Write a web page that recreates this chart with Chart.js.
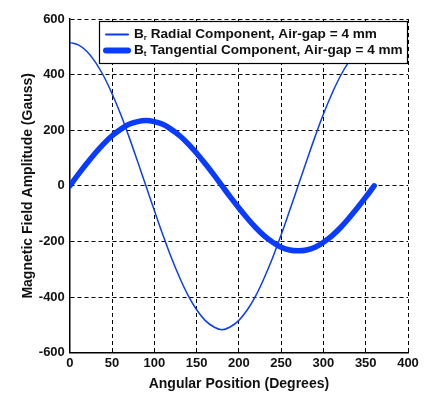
<!DOCTYPE html>
<html>
<head>
<meta charset="utf-8">
<script src="https://cdn.jsdelivr.net/npm/chart.js@4/dist/chart.umd.min.js"></script>
<style>
  html, body { margin: 0; padding: 0; background: #ffffff; }
  #wrap { width: 442px; height: 401px; }
</style>
</head>
<body>
<div id="wrap"><canvas id="chart" width="442" height="401"></canvas></div>
<script>
// angular position, degrees
const angles = [0, 10, 20, 30, 40, 50, 60, 70, 80, 90, 100, 110, 120, 130, 140, 150, 160, 170, 180,
	190, 200, 210, 220, 230, 240, 250, 260, 270, 280, 290, 300, 310, 320, 330, 340, 350, 360]

// Br radial component (Gauss)
const radial = [515, 507, 484, 446, 395, 331, 258, 176, 89, 0, -89, -176, -258, -331, -395, -446, -484, -507, -518,
	-507, -484, -446, -395, -331, -258, -176, -89, 0, 89, 176, 258, 331, 395, 446, 484, 507, 515]

// Bt tangential component (Gauss)
const tangential = [0, 41, 80, 117, 151, 180, 203, 221, 231, 235, 231, 221, 203, 180, 151, 117, 80, 41, 0,
	-41, -80, -117, -151, -180, -203, -221, -231, -234, -231, -221, -203, -180, -151, -117, -80, -41, 0]

const xTicks = [0, 50, 100, 150, 200, 250, 300, 350, 400]
const yTicks = [-600, -400, -200, 0, 200, 400, 600]

const legendItems = [
	{ base: 'B', sub: 'r', rest: ' Radial Component, Air-gap = 4 mm', width: 2 },
	{ base: 'B', sub: 't', rest: ' Tangential Component, Air-gap = 4 mm', width: 6 }
]

const blue = '#0a3cff'
const font = '"Liberation Sans", Arial, sans-serif'

const toPoints = (ys) => angles.map((a, i) => ({ x: a, y: ys[i] }))

// boxed legend drawn inside the plot, top right, like the original figure
const boxLegend = {
	id: 'boxLegend',
	afterDatasetsDraw(chart) {
		const { ctx, chartArea } = chart
		const w = 308
		const h = 42
		const left = chartArea.right - w - 1
		const top = chartArea.top + 2

		ctx.save()
		ctx.fillStyle = '#ffffff'
		ctx.fillRect(left, top, w, h)
		ctx.strokeStyle = '#000000'
		ctx.lineWidth = 1.2
		ctx.strokeRect(left + 0.5, top + 0.5, w, h)

		legendItems.forEach((item, i) => {
			const cy = top + 13.5 + i * 16
			ctx.strokeStyle = blue
			ctx.lineWidth = item.width
			ctx.lineCap = 'round'
			ctx.beginPath()
			ctx.moveTo(left + 7, cy)
			ctx.lineTo(left + 29, cy)
			ctx.stroke()

			ctx.fillStyle = '#111111'
			ctx.textBaseline = 'middle'
			let x = left + 35
			ctx.font = `bold 13.6px ${font}`
			ctx.fillText(item.base, x, cy)
			x += ctx.measureText(item.base).width
			ctx.font = `bold 8px ${font}`
			ctx.fillText(item.sub, x, cy + 3)
			x += ctx.measureText(item.sub).width
			ctx.font = `bold 13.6px ${font}`
			ctx.fillText(item.rest, x, cy)
		})
		ctx.restore()
	}
}

new Chart(document.getElementById('chart'), {
	type: 'line',
	data: {
		datasets: [
			{
				label: 'Br Radial Component, Air-gap = 4 mm',
				data: toPoints(radial),
				borderColor: blue,
				borderWidth: 1.5,
				pointRadius: 0,
				tension: 0.4,
				fill: false
			},
			{
				label: 'Bt Tangential Component, Air-gap = 4 mm',
				data: toPoints(tangential),
				borderColor: blue,
				borderWidth: 5.5,
				pointRadius: 0,
				tension: 0.4,
				borderCapStyle: 'round',
				fill: false
			}
		]
	},
	options: {
		responsive: false,
		animation: false,
		devicePixelRatio: 1,
		layout: {
			padding: { top: 19, right: 34, bottom: 8, left: 20 }
		},
		plugins: {
			legend: { display: false },
			tooltip: { enabled: false }
		},
		scales: {
			x: {
				type: 'linear',
				min: 0,
				max: 400,
				afterBuildTicks: (axis) => {
					axis.ticks = xTicks.map((v) => ({ value: v }))
				},
				ticks: {
					color: '#111111',
					font: { family: font, size: 13, weight: 'bold' },
					padding: 3,
					maxRotation: 0
				},
				grid: { color: '#000000', lineWidth: 1, drawTicks: false },
				border: { display: true, color: '#000000', width: 1.5, dash: [4, 3] },
				title: {
					display: true,
					text: 'Angular Position (Degrees)',
					color: '#111111',
					font: { family: font, size: 14, weight: 'bold' },
					padding: { top: 2, bottom: 0 }
				}
			},
			y: {
				type: 'linear',
				min: -600,
				max: 600,
				afterBuildTicks: (axis) => {
					axis.ticks = yTicks.map((v) => ({ value: v }))
				},
				ticks: {
					color: '#111111',
					font: { family: font, size: 13, weight: 'bold' },
					padding: 5
				},
				grid: { color: '#000000', lineWidth: 1, drawTicks: false },
				border: { display: true, color: '#000000', width: 1.5, dash: [4, 3] },
				title: {
					display: true,
					text: 'Magnetic Field Amplitude (Gauss)',
					color: '#111111',
					font: { family: font, size: 14, weight: 'bold' },
					padding: { top: 0, bottom: -3 }
				}
			}
		}
	},
	plugins: [boxLegend]
})
</script>
</body>
</html>
